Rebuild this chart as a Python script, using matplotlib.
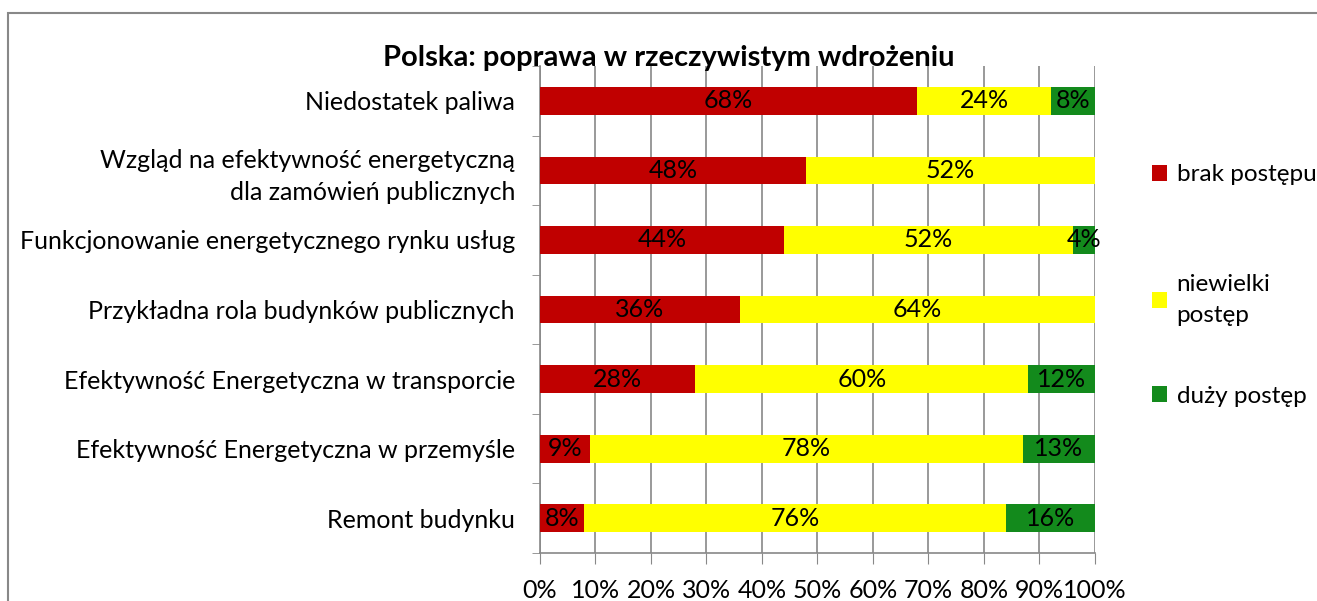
import matplotlib
matplotlib.use("Agg")
import matplotlib.pyplot as plt
import numpy as np

plt.rcParams['font.family'] = ['Lato', 'DejaVu Sans']

categories = [
    "Niedostatek paliwa",
    "Wzgląd na efektywność energetyczną\ndla zamówień publicznych",
    "Funkcjonowanie energetycznego rynku usług",
    "Przykładna rola budynków publicznych",
    "Efektywność Energetyczna w transporcie",
    "Efektywność Energetyczna w przemyśle",
    "Remont budynku",
]
brak = [68, 48, 44, 36, 28, 9, 8]
niewielki = [24, 52, 52, 64, 60, 78, 76]
duzy = [8, 0, 4, 0, 12, 13, 16]

series = [("brak postępu", brak, "#C00000"),
          ("niewielki\npostęp", niewielki, "#FFFF00"),
          ("duży postęp", duzy, "#138A1C")]

FS = 18

fig = plt.figure(figsize=(13.17, 6.01), dpi=100)
ax = fig.add_axes([0.410, 0.080, 0.4214, 0.810])

y = np.arange(len(categories))[::-1]
left = np.zeros(len(categories))
handles = []
for name, vals, col in series:
    vals = np.array(vals, dtype=float)
    bars = ax.barh(y, vals, left=left, height=0.4, color=col, label=name, zorder=3)
    handles.append(bars)
    for yi, l, v in zip(y, left, vals):
        if v > 0:
            ax.text(l + v / 2, yi, f"{int(v)}%", ha="center", va="center",
                    fontsize=FS, color="black", zorder=4)
    left += vals

ax.set_xlim(0, 100)
ax.set_ylim(-0.5, len(categories) - 0.5)
ax.set_xticks(np.arange(0, 101, 10))
ax.set_xticklabels([f"{t}%" for t in range(0, 101, 10)], fontsize=FS)
ax.set_yticks(y)
ax.set_yticklabels(categories, fontsize=FS, ha="right", linespacing=1.45)
ax.tick_params(axis="y", length=0, pad=18)
ax.tick_params(axis="x", length=8, color="#888888", pad=11)
ax.set_yticks(np.arange(-0.5, len(categories), 1), minor=True)
ax.tick_params(axis="y", which="minor", length=6, color="#888888")
ax.xaxis.grid(True, color="#888888", linewidth=1.2, zorder=0)
for s in ["top", "right"]:
    ax.spines[s].set_visible(False)
for s in ["left", "bottom"]:
    ax.spines[s].set_color("#888888")
    ax.spines[s].set_linewidth(1.2)

fig.text(0.508, 0.904, "Polska: poprawa w rzeczywistym wdrożeniu", ha="center",
         va="center", fontsize=21, fontweight="bold")

# one legend per entry so the uneven Excel spacing can be kept
leg_y = [0.709, 0.501, 0.341]
for h, ly in zip(handles, leg_y):
    leg = fig.legend(handles=[h], loc="center left", bbox_to_anchor=(0.875, ly),
                     frameon=False, fontsize=17.5, handlelength=0.6,
                     handleheight=0.6, handletextpad=0.4,
                     borderpad=0, borderaxespad=0)
    for t in leg.get_texts():
        t.set_linespacing(1.55)

fig.patches.append(plt.Rectangle((8 / 1317, -0.1), 1.2, 1 - 13 / 601 + 0.1,
                                 transform=fig.transFigure, fill=False,
                                 edgecolor="#888888", linewidth=1.5))

fig.savefig("out.png", dpi=100)
